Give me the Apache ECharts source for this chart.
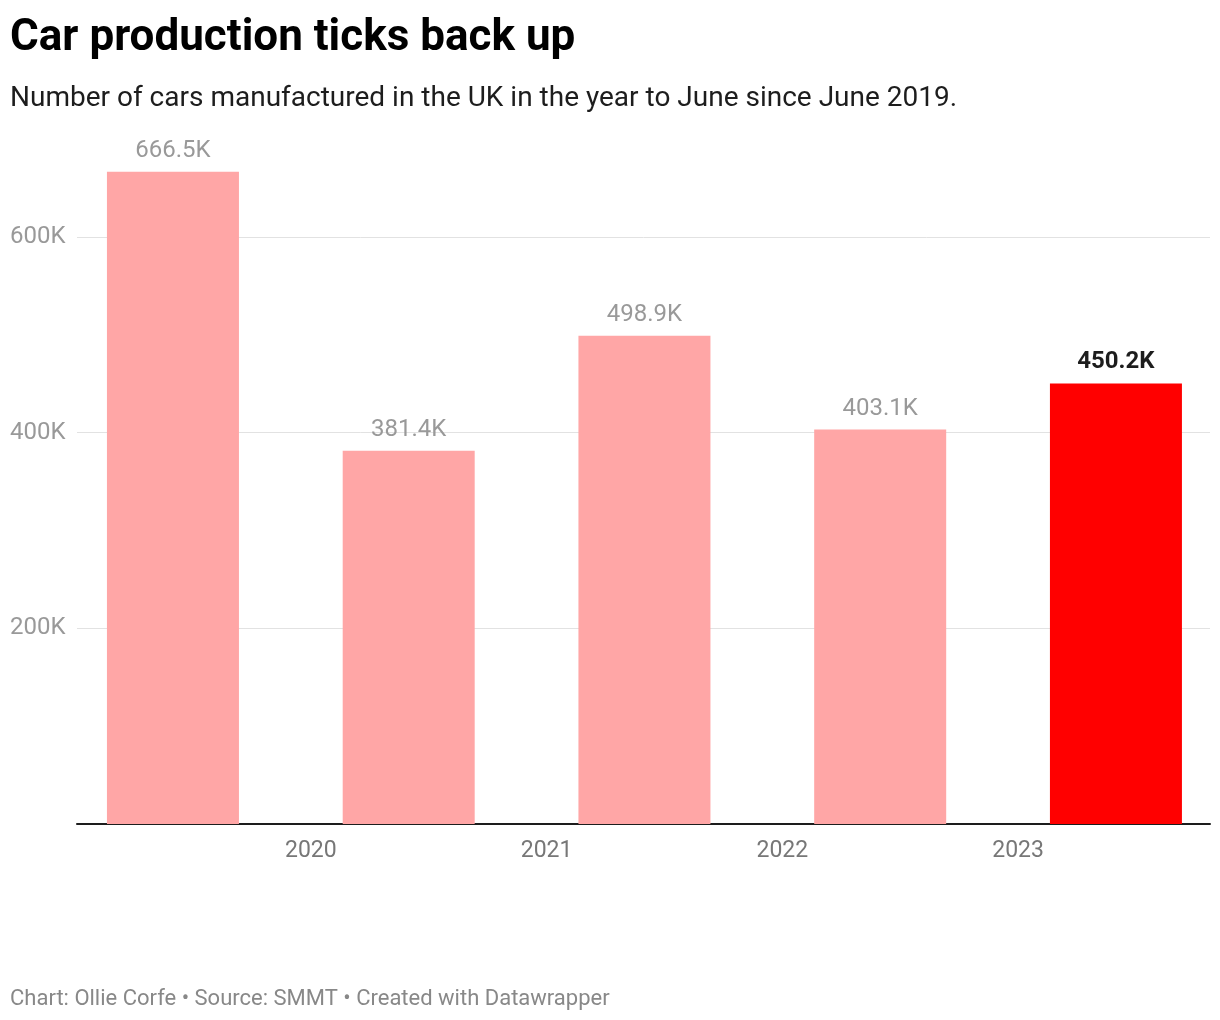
<!DOCTYPE html>
<html>
	<head>
		<meta charset="utf-8" />
		<title>Car production ticks back up</title>
		<script type="text/javascript" src="https://cdn.jsdelivr.net/npm/echarts@6.0.0/dist/echarts.min.js"></script>
		<style>
			html, body { margin: 0; padding: 0; background: #fff; }
		</style>
		<script type="text/javascript">
		// year to June, 2019 .. 2023
		var periods = ['2019', '2020', '2021', '2022', '2023'];
		var cars = [666500, 381400, 498900, 403100, 450200];
		var yearTicks = ['2020', '2021', '2022', '2023'];
		var yTicks = [200000, 400000, 600000];

		var myChart;

		function fmtK(v) {
			return (v / 1000).toFixed(1) + 'K';
		}

		window.onload = function(){
			myChart = echarts.init(document.getElementById('main'));

			var data = cars.map(function (v, i) {
				var d = { value: [i, v] };
				if (i === cars.length - 1) {
					d.itemStyle = { color: '#ff0000' };
					d.label = { color: '#1d1d1d', fontWeight: 'bold' };
				}
				return d;
			});

			// year labels sit just right of the gap between two bars
			var tickPos = yearTicks.map(function (t, i) { return i + 0.585; });

			var option = {
				animation: false,
				textStyle: { fontFamily: 'Roboto' },
				title: [
					{
						text: 'Car production ticks back up',
						left: 5, top: 12,
						textStyle: { fontFamily: 'Roboto', fontSize: 44, fontWeight: 'bold', color: '#000' }
					},
					{
						text: 'Number of cars manufactured in the UK in the year to June since June 2019.',
						left: 5, top: 80,
						textStyle: { fontFamily: 'Roboto', fontSize: 28, fontWeight: 'normal', color: '#1d1d1d' }
					},
					{
						text: 'Chart: Ollie Corfe • Source: SMMT • Created with Datawrapper',
						left: 5, top: 983,
						textStyle: { fontFamily: 'Roboto', fontSize: 22, fontWeight: 'normal', color: '#888' }
					}
				],
				grid: {
					left: 77,
					right: 10,
					top: 139,
					bottom: 196
				},
				xAxis: {
					type: 'value',
					min: -0.407,
					max: 4.399,
					splitLine: { show: false },
					axisTick: { show: false },
					axisLine: { show: true, onZero: false, lineStyle: { color: '#1d1d1d', width: 2 } },
					axisLabel: {
						customValues: tickPos,
						margin: 16,
						fontSize: 23,
						color: '#777',
						formatter: function (v) {
							var i = Math.round(v - 0.585);
							return yearTicks[i] || '';
						}
					}
				},
				yAxis: {
					type: 'value',
					min: 0,
					max: 700000,
					axisLine: { show: false },
					splitLine: { show: true, lineStyle: { color: '#e2e2e2', width: 1 } },
					axisLabel: {
						customValues: yTicks,
						align: 'left',
						margin: 67,
						fontSize: 24,
						color: '#999',
						formatter: function (v) {
							return (v / 1000) + 'K';
						}
					},
					axisTick: { show: false, customValues: yTicks }
				},
				series: [
					{
						name: 'Cars',
						type: 'bar',
						barWidth: 132,
						itemStyle: { color: '#ffa6a6' },
						label: {
							show: true,
							position: 'top',
							distance: 9,
							fontSize: 24,
							color: '#999',
							formatter: function (p) { return fmtK(p.value[1]); }
						},
						data: data
					}
				]
			};

			myChart.setOption(option);
		}
		</script>
	</head>
	<body>
		<div id="main" style="width: 1220px;height:1020px;"></div>
	</body>
</html>
